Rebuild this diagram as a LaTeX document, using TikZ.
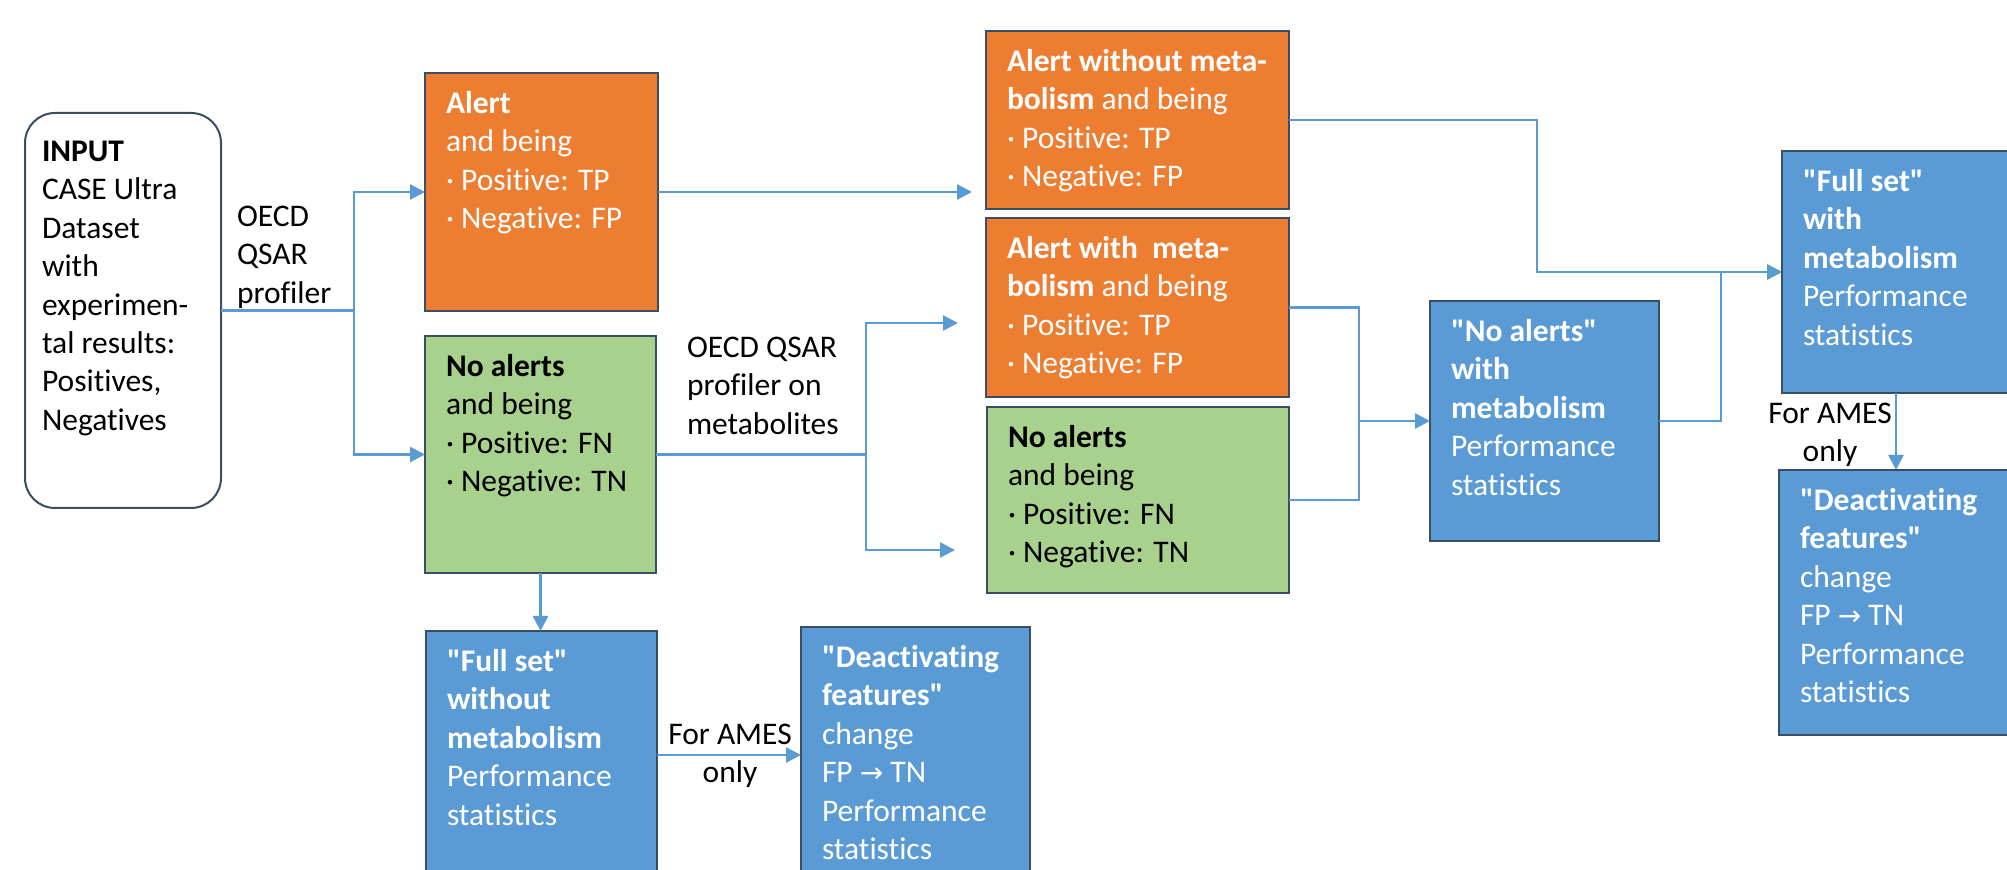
\documentclass[tikz,border=0pt]{standalone}
\usepackage{fontspec}
\setmainfont{Carlito}[Ligatures={TeXOff,NoCommon}]
\newfontfamily\arrowfont{DejaVu Sans}
\usetikzlibrary{arrows.meta}
\definecolor{orng}{HTML}{ED7D31}
\definecolor{grn}{HTML}{A9D18E}
\definecolor{blu}{HTML}{5B9BD5}
\definecolor{edgecol}{HTML}{3A4D63}
\definecolor{lnblue}{HTML}{5B9BD5}
\tikzset{
  cbox/.style={draw=edgecol, line width=1pt, inner sep=0pt, outer sep=0pt},
  obox/.style={cbox, fill=orng},
  gbox/.style={cbox, fill=grn},
  bbox/.style={cbox, fill=blu},
  inbox/.style={draw=edgecol, line width=1pt, rounded corners=15pt, fill=white, inner sep=0pt, outer sep=0pt},
  txt/.style={inner sep=0pt, outer sep=0pt, align=left, anchor=north west, font=\fontsize{15.75pt}{19.2pt}\selectfont},
  link/.style={draw=lnblue, line width=1.25pt},
  arr/.style={link, -{Triangle[length=7.5pt,width=7.5pt]}},
}
\newcommand{\mkbox}[8]{%
  \pgfmathsetmacro{\bxcx}{(#4+#6)/2}%
  \pgfmathsetmacro{\bxcy}{(#5+#7)/2}%
  \pgfmathsetmacro{\bxw}{(#6-#4)/2}%
  \pgfmathsetmacro{\bxh}{(#7-#5)/2}%
  \node[#2, minimum width=\bxw pt, minimum height=\bxh pt] (#1) at (\bxcx,\bxcy) {};%
  \node[txt, text=#3] (#1-t) at (#4+21,#5+13.6) {\strut #8};%
}
\newcommand{\fparrow}{FP {\arrowfont\fontsize{14pt}{19.2pt}\selectfont →} TN}
\begin{document}
\begin{tikzpicture}[x=0.5pt,y=-0.5pt]
\clip (0,0) rectangle (2007,870);
\fill[white] (0,0) rectangle (2007,870);

% input
\node[inbox, minimum width=98pt, minimum height=197.5pt] (input) at (123,310.5) {};
\node[txt, text=black] (input-t) at (42,134.6) {\strut{\bfseries INPUT}\\CASE Ultra\\Dataset\\with\\experimen-\\tal results:\\Positives,\\Negatives};

% boxes
\mkbox{alert}{obox}{white}{425}{73}{658}{311}{{\bfseries Alert}\\and being\\· Positive: TP\\· Negative: FP}
\mkbox{noalert}{gbox}{black}{425}{336}{656}{573}{{\bfseries No alerts}\\and being\\· Positive: FN\\· Negative: TN}
\mkbox{alertwo}{obox}{white}{986}{31}{1289}{209}{{\bfseries Alert without meta-}\\{\bfseries bolism} and being\\· Positive: TP\\· Negative: FP}
\mkbox{alertw}{obox}{white}{986}{218}{1289}{397}{{\bfseries Alert with\ \ meta-}\\{\bfseries bolism} and being\\· Positive: TP\\· Negative: FP}
\mkbox{noalert2}{gbox}{black}{987}{407}{1289}{593}{{\bfseries No alerts}\\and being\\· Positive: FN\\· Negative: TN}
\mkbox{bluena}{bbox}{white}{1430}{301}{1659}{541}{{\bfseries "No alerts"}\\{\bfseries with}\\{\bfseries metabolism}\\Performance\\statistics}
\mkbox{fullw}{bbox}{white}{1782}{151}{2010}{393}{{\bfseries "Full set"}\\{\bfseries with}\\{\bfseries metabolism}\\Performance\\statistics}
\mkbox{deactR}{bbox}{white}{1779}{470}{2013}{735}{{\bfseries "Deactivating}\\{\bfseries features"}\\change\\\fparrow\\Performance\\statistics}
\mkbox{fullwo}{bbox}{white}{426}{631}{657}{900}{{\bfseries "Full set"}\\{\bfseries without}\\{\bfseries metabolism}\\Performance\\statistics}
\mkbox{deactB}{bbox}{white}{801}{627}{1030}{900}{{\bfseries "Deactivating}\\{\bfseries features"}\\change\\\fparrow\\Performance\\statistics}

% labels
\node[txt] (lbl1) at (237,199.6) {\strut OECD\\QSAR\\profiler};
\node[txt] (lbl2) at (687,330.6) {\strut OECD QSAR\\profiler on\\metabolites};
\node[txt, align=center, anchor=north] (lbl3) at (730,717.6) {\strut For AMES\\only};
\node[txt, align=center, anchor=north] (lbl4) at (1830,396.6) {\strut For AMES\\only};

% connectors
\coordinate (j1) at (354,310.5);
\draw[link] (input.east) -- (j1);
\draw[arr] (j1) |- (alert.west);
\draw[arr] (j1) |- (noalert.west);
\draw[arr, shorten >=7pt] (alert.east) -- (alert.east -| alertwo.west);
\coordinate (j2) at (866,454.5);
\coordinate (h323) at (0,323);
\coordinate (h550) at (0,550);
\coordinate (h755) at (0,755);
\draw[link] (noalert.east) -- (j2);
\draw[arr, shorten >=14pt] (j2) |- (alertw.west |- h323);
\draw[arr, shorten >=16pt] (j2) |- (noalert2.west |- h550);
\coordinate (j4) at (1537,272);
\draw[arr] (alertwo.east) -| (j4) -- (fullw.west);
\coordinate (j5) at (1359,500);
\draw[link] (alertw.east) -| (j5) -- (noalert2.east);
\draw[arr] (j5 |- bluena.west) -- (bluena.west);
\coordinate (j6) at (1721,272);
\draw[arr] (bluena.east) -| (j6) -- (fullw.west);
\draw[arr] (fullw.south) -- (deactR.north);
\draw[arr] (noalert.south) -- (noalert.south |- fullwo.north);
\draw[arr] (fullwo.east |- h755) -- (deactB.west |- h755);
\end{tikzpicture}
\end{document}
